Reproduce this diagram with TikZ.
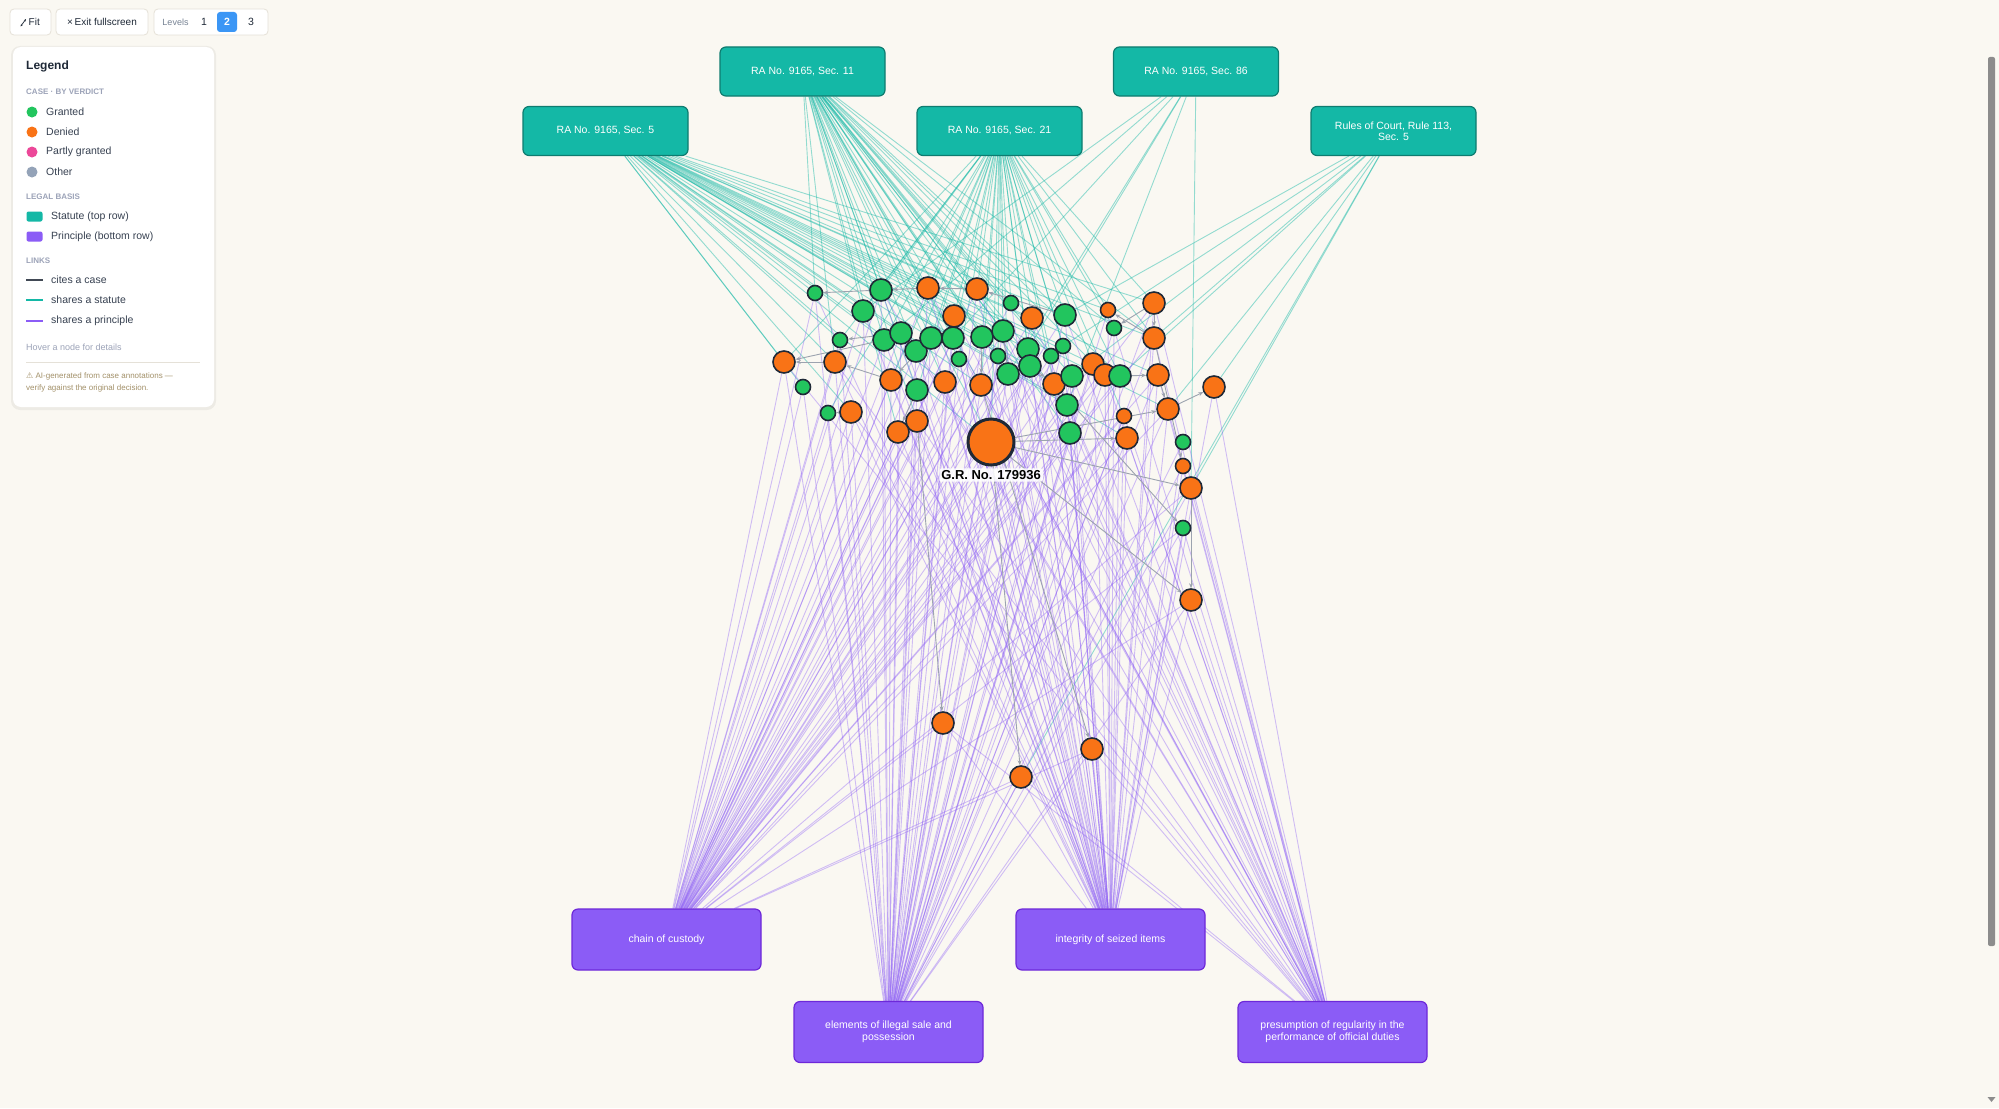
\documentclass[tikz,border=0pt]{standalone}
\usepackage{fontspec}
\setmainfont{Liberation Sans}
\newfontfamily\symfont{DejaVu Sans}
\usetikzlibrary{arrows.meta}
\definecolor{pagebg}{HTML}{FAF8F2}
\definecolor{statfill}{HTML}{14B8A6}
\definecolor{statedge}{HTML}{0E7C70}
\definecolor{prinfill}{HTML}{8B5CF6}
\definecolor{prinedge}{HTML}{6D28D9}
\definecolor{grn}{HTML}{22C55E}
\definecolor{org}{HTML}{F97316}
\definecolor{pnk}{HTML}{EC4899}
\definecolor{gry}{HTML}{94A3B8}
\definecolor{ink}{HTML}{1F2937}
\definecolor{citegray}{HTML}{9CA3AF}
\definecolor{headgray}{HTML}{9CA3B8}
\definecolor{bodytext}{HTML}{374151}
\definecolor{warntext}{HTML}{A3916A}
\definecolor{btnline}{HTML}{E5E1D8}
\definecolor{lvlblue}{HTML}{3B96F5}
\definecolor{barfill}{HTML}{8C8C8C}
\pgfdeclarelayer{canvas}
\pgfdeclarelayer{links}
\pgfsetlayers{canvas,links,main}

\begin{document}
\begin{tikzpicture}[x=1pt, y=-1pt,
    statute/.style={rectangle, rounded corners=6pt, draw=statedge, line width=1.2pt,
                    fill=statfill, minimum width=165pt, minimum height=49pt, align=center,
                    text=white, font=\fontsize{10.5}{11}\selectfont},
    principle/.style={rectangle, rounded corners=6pt, draw=prinedge, line width=1.2pt,
                    fill=prinfill, minimum width=189pt, minimum height=61pt, align=center,
                    text=white, font=\fontsize{10.5}{11.5}\selectfont},
    case/.style={circle, draw=ink, line width=1.6pt, inner sep=0pt},
    casesm/.style={minimum size=15pt},
    caselg/.style={minimum size=22pt},
    bigcase/.style={case, line width=3pt, minimum size=46pt, fill=org},
    statlink/.style={draw=statfill, line width=0.9pt, opacity=0.45},
    prinlink/.style={draw=prinfill, line width=0.9pt, opacity=0.38},
    cite/.style={draw=citegray, line width=0.9pt, -{Stealth[length=5pt, width=4pt]}},
    btn/.style={rectangle, rounded corners=4pt, draw=btnline, line width=0.8pt, fill=white,
                minimum height=26pt, font=\fontsize{10}{12}\selectfont, text=ink},
    legtext/.style={anchor=west, inner sep=0pt, font=\fontsize{10.5}{12}\selectfont, text=bodytext},
    leghead/.style={anchor=west, inner sep=0pt, font=\bfseries\fontsize{8}{10}\selectfont, text=headgray},
    legdot/.style={circle, inner sep=0pt, minimum size=11pt},
    legswatch/.style={rectangle, rounded corners=2pt, inner sep=0pt, minimum width=16pt, minimum height=10pt}
  ]
    \useasboundingbox (0,0) rectangle (1999,1108);
    \begin{pgfonlayer}{canvas}
      \fill[pagebg] (0,0) rectangle (1999,1108);
    \end{pgfonlayer}

    \node[statute] (s11)  at (802.5,71.5) {RA No. 9165, Sec. 11};
    \node[statute] (s86)  at (1196,71.5)  {RA No. 9165, Sec. 86};
    \node[statute] (s5)   at (605.5,131)  {RA No. 9165, Sec. 5};
    \node[statute] (s21)  at (999.5,131)  {RA No. 9165, Sec. 21};
    \node[statute] (r113) at (1393.5,131) {Rules of Court, Rule 113,\\Sec. 5};

    \node[principle] (coc)   at (666.5,939.5) {chain of custody};
    \node[principle] (integ) at (1110.5,939.5) {integrity of seized items};
    \node[principle] (elem)  at (888.5,1032)  {elements of illegal sale and\\possession};
    \node[principle] (pres)  at (1332.5,1032) {presumption of regularity in the\\performance of official duties};

    \foreach \n/\x/\y/\sz/\col in {
        1/815/293/casesm/grn, 2/881/290/caselg/grn, 3/928/288/caselg/org, 4/977/289/caselg/org,
        5/863/311/caselg/grn, 6/1011/303/casesm/grn, 7/954/316/caselg/org, 8/1032/318/caselg/org,
        9/1065/315/caselg/grn, 10/1108/310/casesm/org, 11/1154/303/caselg/org, 12/1114/328/casesm/grn,
        13/1154/338/caselg/org, 14/840/340/casesm/grn, 15/884/340/caselg/grn, 16/901/333/caselg/grn,
        17/916/351/caselg/grn, 18/931/338/caselg/grn, 19/953/338/caselg/grn, 20/982/337/caselg/grn,
        21/1003/331/caselg/grn, 22/959/359/casesm/grn, 23/998/356/casesm/grn, 24/1028/349/caselg/grn,
        25/1063/346/casesm/grn, 26/1051/356/casesm/grn, 27/1030/366/caselg/grn, 28/784/362/caselg/org,
        29/835/362/caselg/org, 30/891/380/caselg/org, 31/917/390/caselg/grn, 32/945/382/caselg/org,
        33/981/385/caselg/org, 34/1008/374/caselg/grn, 35/1054/384/caselg/org, 37/1093/364/caselg/org,
        38/1105/375/caselg/org, 36/1072/376/caselg/grn, 39/1120/376/caselg/grn, 40/1158/375/caselg/org,
        41/1214/387/caselg/org, 42/803/387/casesm/grn, 43/828/413/casesm/grn, 44/851/412/caselg/org,
        45/917/421/caselg/org, 46/898/432/caselg/org, 47/1067/405/caselg/grn, 48/1168/409/caselg/org,
        49/1124/416/casesm/org, 50/1127/438/caselg/org, 51/1070/433/caselg/grn, 52/1183/442/casesm/grn,
        53/1183/466/casesm/org, 54/1191/488/caselg/org, 55/1183/528/casesm/grn, 56/1191/600/caselg/org,
        57/943/723/caselg/org, 58/1092/749/caselg/org, 59/1021/777/caselg/org}
      \node[case, \sz, fill=\col] (c\n) at (\x,\y) {};
    \node[bigcase] (cgr) at (991,442) {};
    \node[font=\bfseries\fontsize{13}{15}\selectfont, fill=white, fill opacity=0.85, text opacity=1,
          rounded corners=2pt, inner sep=2pt] (grlabel) at (991,475) {G.R. No. 179936};

    \begin{pgfonlayer}{links}
      \foreach \k in {1,2,3,4,5,7,8,9,10,11,13,14,15,16,18,19,20,21,24,25,27,28,29,30,32,33,35,37,40,42,44,47,48,50,gr}
        \draw[statlink] (s5) -- (c\k);
      \foreach \k in {1,2,3,4,5,6,7,8,9,12,13,15,16,17,18,19,20,21,22,23,24,26,27,29,31,32,33,34,36,38,39,45,46,47,51,gr}
        \draw[statlink] (s11) -- (c\k);
      \foreach \k in {2,3,4,5,6,7,8,9,10,11,12,13,14,15,17,18,19,20,21,22,23,24,25,26,27,28,30,31,33,34,35,36,37,39,43,49,gr}
        \draw[statlink] (s21) -- (c\k);
      \foreach \k in {5,15,19,24,34,47,54}
        \draw[statlink] (s86) -- (c\k);
      \foreach \k in {9,13,25,36,39,41,48,54,59}
        \draw[statlink] (r113) -- (c\k);

      \foreach \k in {1,2,3,4,5,6,7,8,9,11,13,14,15,16,17,18,19,20,21,22,23,24,25,26,27,28,29,30,31,32,33,34,35,36,37,38,39,40,42,43,44,45,46,47,48,49,50,51,54,55,56,57,58,59,gr}
        \draw[prinlink] (coc) -- (c\k);
      \foreach \k in {1,2,3,4,5,7,8,9,10,11,12,13,14,15,16,17,18,19,20,21,22,23,24,25,26,27,28,29,30,31,32,33,34,35,36,37,38,39,40,42,43,44,45,46,47,48,49,50,51,52,53,54,55,56,57,58,59,gr}
        \draw[prinlink] (elem) -- (c\k);
      \foreach \k in {1,2,3,4,5,6,7,8,9,10,11,12,13,15,16,17,18,19,20,21,22,23,24,25,26,27,29,30,31,32,33,34,35,36,37,38,39,40,41,44,45,46,47,48,49,50,51,52,53,54,55,56,57,58,59,gr}
        \draw[prinlink] (integ) -- (c\k);
      \foreach \k in {2,3,4,7,8,9,10,11,13,17,19,21,24,27,28,29,33,34,35,36,38,40,41,44,45,47,48,49,50,54,55,56,57,58,59,gr}
        \draw[prinlink] (pres) -- (c\k);

      \foreach \a/\b in {2/1, 3/2, 4/3, 9/4, 11/12, 13/10, 15/28, 29/28, 30/29, 44/43, 18/30, 20/33,
                         27/35, 39/40, 40/48, 48/41, gr/50, gr/48, gr/54, 54/56, gr/56, 35/55, 45/57,
                         gr/59, 33/58, 21/34, 37/38, 16/14, 31/46, 13/53, 11/13}
        \draw[cite] (c\a) -- (c\b);
    \end{pgfonlayer}

    \node[btn, minimum width=41pt] (fitbtn) at (30.5,22) {};
    \draw[ink, line width=0.7pt, {Stealth[length=2.5pt]}-{Stealth[length=2.5pt]}] (20.5,26.5) -- (26,19);
    \node[anchor=west, inner sep=0pt, font=\fontsize{10}{12}\selectfont, text=ink] (fittext) at (28.5,22) {Fit};
    \node[btn, minimum width=92pt] (exitbtn) at (102,22) {×\,Exit fullscreen};
    \node[btn, minimum width=114pt] (lvlbox) at (211,22) {};
    \node[font=\fontsize{9}{11}\selectfont, text=gry!80!black, inner sep=0pt] (lvltext) at (175.5,22.5) {Levels};
    \node[font=\fontsize{10.5}{12}\selectfont, text=ink, inner sep=0pt] (lvlone) at (204,22) {1};
    \node[rectangle, rounded corners=3pt, fill=lvlblue, minimum width=20pt, minimum height=20pt,
          inner sep=0pt, text=white, font=\bfseries\fontsize{10.5}{12}\selectfont] (lvltwo) at (227,22) {2};
    \node[font=\fontsize{10.5}{12}\selectfont, text=ink, inner sep=0pt] (lvlthree) at (251,22) {3};

    \fill[black, opacity=0.05, rounded corners=9pt] (11,46) rectangle (216,410);
    \fill[white, rounded corners=8pt] (13,47) rectangle (214,407);
    \node[anchor=west, inner sep=0pt, font=\bfseries\fontsize{12}{14}\selectfont, text=ink] (legtitle) at (26,66) {Legend};
    \node[leghead] (hcase) at (26,92) {CASE · BY VERDICT};
    \node[legdot, fill=grn] (kgrn) at (32,112) {};
    \node[legtext] (tgrn) at (46,112) {Granted};
    \node[legdot, fill=org] (korg) at (32,132) {};
    \node[legtext] (torg) at (46,132) {Denied};
    \node[legdot, fill=pnk] (kpnk) at (32,152) {};
    \node[legtext] (tpnk) at (46,152) {Partly granted};
    \node[legdot, fill=gry] (kgry) at (32,172) {};
    \node[legtext] (tgry) at (46,172) {Other};
    \node[leghead] (hbasis) at (26,197) {LEGAL BASIS};
    \node[legswatch, fill=statfill] (kstat) at (34.5,216.5) {};
    \node[legtext] (tstat) at (51,217) {Statute (top row)};
    \node[legswatch, fill=prinfill] (kprin) at (34.5,236.5) {};
    \node[legtext] (tprin) at (51,237) {Principle (bottom row)};
    \node[leghead] (hlinks) at (26,261) {LINKS};
    \draw[ink!85, line width=2pt] (26,280) -- (43,280);
    \node[legtext] (tcite) at (51,280) {cites a case};
    \draw[statfill, line width=2pt] (26,300) -- (43,300);
    \node[legtext] (tshst) at (51,300) {shares a statute};
    \draw[prinfill, line width=2pt] (26,320.5) -- (43,320.5);
    \node[legtext] (tshpr) at (51,320.5) {shares a principle};
    \node[legtext, text=headgray, font=\fontsize{9}{11}\selectfont] (thover) at (26,347) {Hover a node for details};
    \draw[btnline, line width=0.8pt] (26,362) -- (200,362);
    \node[legtext, text=warntext, font=\fontsize{8}{10}\selectfont] (twarn1) at (26,376) {{\symfont ⚠} AI-generated from case annotations —};
    \node[legtext, text=warntext, font=\fontsize{8}{10}\selectfont] (twarn2) at (26,388.5) {verify against the original decision.};

    \fill[barfill, rounded corners=2pt] (1988,57) rectangle (1995,946);
    \fill[barfill] (1987.5,1097) -- (1995.5,1097) -- (1991.5,1102) -- cycle;
\end{tikzpicture}
\end{document}
